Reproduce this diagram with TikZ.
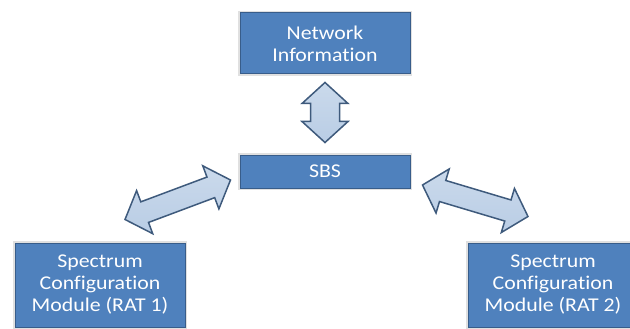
\documentclass[tikz,border=0pt]{standalone}
\usepackage{fontspec}
\setmainfont{Carlito}[FakeStretch=1.12, Ligatures=NoCommon]
\usetikzlibrary{calc}

\definecolor{boxblue}{HTML}{4F81BD}
\definecolor{boxline}{HTML}{385D8A}
\definecolor{arrowfill}{HTML}{B9CDE5}
\definecolor{arrowline}{HTML}{3E5A7C}

\tikzset{
  block/.style={rectangle, draw=boxline, line width=1pt, fill=boxblue,
    preaction={draw=black!12, line width=4pt},
    text=white, minimum width=170pt, align=center, inner sep=0pt,
    font=\fontsize{19.5}{22}\selectfont},
  % fat double arrow, #1 = half width of the shaft
  fatarrow/.style={draw=arrowline, line width=1.5pt, line join=miter,
    top color=arrowfill!75!white, bottom color=arrowfill,
    to path={(\tikztostart)
      -- ($(\tikztostart)!21pt!(\tikztotarget)!23pt!90:(\tikztotarget)$)
      -- ($(\tikztostart)!21pt!(\tikztotarget)!#1pt!90:(\tikztotarget)$)
      -- ($(\tikztotarget)!21pt!(\tikztostart)!#1pt!-90:(\tikztostart)$)
      -- ($(\tikztotarget)!21pt!(\tikztostart)!23pt!-90:(\tikztostart)$)
      -- (\tikztotarget)
      -- ($(\tikztotarget)!21pt!(\tikztostart)!23pt!90:(\tikztostart)$)
      -- ($(\tikztotarget)!21pt!(\tikztostart)!#1pt!90:(\tikztostart)$)
      -- ($(\tikztostart)!21pt!(\tikztotarget)!#1pt!-90:(\tikztotarget)$)
      -- ($(\tikztostart)!21pt!(\tikztotarget)!23pt!-90:(\tikztotarget)$)
      -- cycle}},
  fatarrow/.default=11
}

\begin{document}
\begin{tikzpicture}[x=1pt, y=-1pt]
  \useasboundingbox (0,0) rectangle (630,329);
  \clip (0,0) rectangle (630,329);

  \node[block, minimum height=61pt] (net) at (325,43.5) {Network\\Information};
  \node[block, minimum height=33pt] (sbs) at (325,171.5) {SBS};
  \node[block, minimum height=84pt] (rat1) at (100,285)
    {Spectrum\\Configuration\\Module (RAT 1)};
  \node[block, minimum height=84pt] (rat2) at (553,285)
    {Spectrum\\Configuration\\Module (RAT 2)};

  \coordinate (netend) at ($(net.south)+(0,8)$);
  \coordinate (sbstop) at ($(sbs.north)+(0,-12)$);
  \coordinate (sbsleft) at ($(sbs.west)+(-9,8.5)$);
  \coordinate (sbsright) at ($(sbs.east)+(12,13.5)$);
  \coordinate (rat1end) at ($(rat1.north)+(25,-23)$);
  \coordinate (rat2end) at ($(rat2.north)+(-25,-26)$);

  \draw[fatarrow=14.5] (netend) to (sbstop);
  \draw[fatarrow] (rat1end) to (sbsleft);
  \draw[fatarrow] (sbsright) to (rat2end);
\end{tikzpicture}
\end{document}
